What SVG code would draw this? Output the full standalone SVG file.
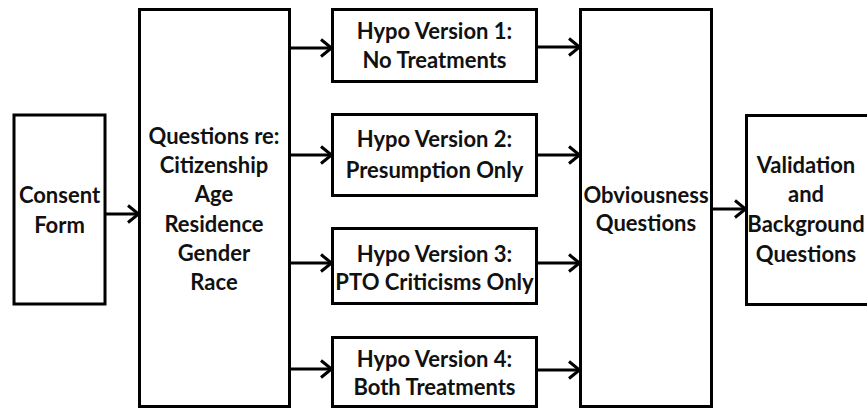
<svg xmlns="http://www.w3.org/2000/svg" width="867" height="408" viewBox="0 0 867 408">
<defs>
<style>
.box{fill:#fff;stroke:#000;stroke-width:3}
.t{font-family:Lato,"Liberation Sans",sans-serif;font-weight:bold;font-size:22px;fill:#111;text-anchor:middle}
.c{stroke:#000;stroke-width:3;fill:none}
</style>
<marker id="ah" markerUnits="userSpaceOnUse" viewBox="0 0 13 20" refX="12" refY="10" markerWidth="13" markerHeight="20" orient="auto">
<path d="M1,1.5 L11.5,10 L1,18.5" fill="none" stroke="#000" stroke-width="3"/>
</marker>
</defs>
<rect width="867" height="408" fill="#fff"/>
<g id="consent">
<rect class="box" x="14" y="115" width="91" height="189"/>
<text class="t" x="59.5" y="203">Consent</text>
<text class="t" x="59.5" y="233">Form</text>
</g>
<g id="questions">
<rect class="box" x="139.5" y="9.5" width="150" height="397"/>
<text class="t" x="214" y="144">Questions re:</text>
<text class="t" x="214" y="173">Citizenship</text>
<text class="t" x="214" y="202">Age</text>
<text class="t" x="214" y="232">Residence</text>
<text class="t" x="214" y="261">Gender</text>
<text class="t" x="214" y="290">Race</text>
</g>
<g id="hypo1">
<rect class="box" x="332.5" y="9.5" width="204" height="72"/>
<text class="t" x="434.5" y="39">Hypo Version 1:</text>
<text class="t" x="434.5" y="68">No Treatments</text>
</g>
<g id="hypo2">
<rect class="box" x="332.5" y="114.5" width="204" height="81"/>
<text class="t" x="434.5" y="147">Hypo Version 2:</text>
<text class="t" x="434.5" y="178">Presumption Only</text>
</g>
<g id="hypo3">
<rect class="box" x="332.5" y="228.5" width="204" height="75"/>
<text class="t" x="434.5" y="262">Hypo Version 3:</text>
<text class="t" x="434.5" y="290">PTO Criticisms Only</text>
</g>
<g id="hypo4">
<rect class="box" x="332.5" y="337.5" width="204" height="69"/>
<text class="t" x="434.5" y="367">Hypo Version 4:</text>
<text class="t" x="434.5" y="395">Both Treatments</text>
</g>
<g id="obviousness">
<rect class="box" x="580.5" y="9.5" width="131" height="397"/>
<text class="t" x="646" y="203">Obviousness</text>
<text class="t" x="646" y="231">Questions</text>
</g>
<g id="validation">
<rect class="box" x="746.5" y="115.5" width="140" height="189"/>
<text class="t" x="806" y="173">Validation</text>
<text class="t" x="806" y="202">and</text>
<text class="t" x="806" y="232">Background</text>
<text class="t" x="806" y="262">Questions</text>
</g>
<g id="connectors">
<line class="c" x1="105" y1="214" x2="139" y2="214" marker-end="url(#ah)"/>
<line class="c" x1="289" y1="48" x2="332" y2="48" marker-end="url(#ah)"/>
<line class="c" x1="289" y1="155" x2="332" y2="155" marker-end="url(#ah)"/>
<line class="c" x1="289" y1="263" x2="332" y2="263" marker-end="url(#ah)"/>
<line class="c" x1="289" y1="369" x2="332" y2="369" marker-end="url(#ah)"/>
<line class="c" x1="537" y1="47" x2="580" y2="47" marker-end="url(#ah)"/>
<line class="c" x1="537" y1="155" x2="580" y2="155" marker-end="url(#ah)"/>
<line class="c" x1="537" y1="263" x2="580" y2="263" marker-end="url(#ah)"/>
<line class="c" x1="537" y1="370" x2="580" y2="370" marker-end="url(#ah)"/>
<line class="c" x1="712" y1="209" x2="746" y2="209" marker-end="url(#ah)"/>
</g>
</svg>
